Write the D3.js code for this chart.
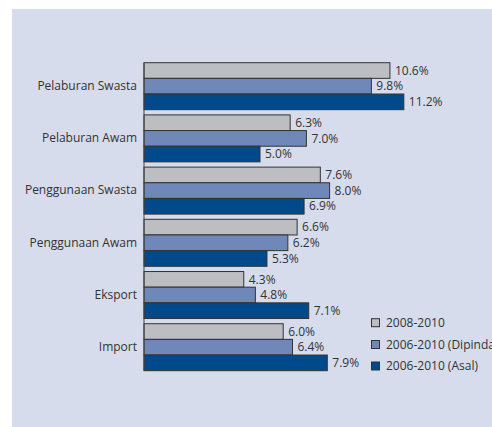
<!DOCTYPE html>
<html>
<head>
<meta charset="utf-8">
<script src="https://cdn.jsdelivr.net/npm/d3@7"></script>
<style>
  body { margin: 0; background: #fff; }
  svg { display: block; font-family: "Open Sans", sans-serif; }
</style>
</head>
<body>
<div id="chart"></div>
<script>
var categories = ['Pelaburan Swasta', 'Pelaburan Awam', 'Penggunaan Swasta', 'Penggunaan Awam', 'Eksport', 'Import'];
var seriesNames = ['2008-2010', '2006-2010 (Dipinda)', '2006-2010 (Asal)'];
var s2008 = [10.6, 6.3, 7.6, 6.6, 4.3, 6.0];
var s2006rev = [9.8, 7.0, 8.0, 6.2, 4.8, 6.4];
var s2006orig = [11.2, 5.0, 6.9, 5.3, 7.1, 7.9];
var colors = ['#bdbec1', '#6f87b9', '#004a8b'];

var W = 492, H = 427;
var seriesValues = [s2008, s2006rev, s2006orig];

var svg = d3.select('#chart').append('svg')
  .attr('width', W)
  .attr('height', H);

// panel background
svg.append('rect')
  .attr('x', 12).attr('y', 9)
  .attr('width', W - 12).attr('height', H - 9)
  .attr('fill', '#d6dcec');

// scales
var x = d3.scaleLinear().domain([0, 12]).range([144, 144 + 12 * 23.2]);
var y0 = d3.scaleBand().domain(categories).range([62.7, 370.7]).paddingInner(0.1);
var y1 = d3.scaleBand().domain(d3.range(seriesNames.length)).range([0, y0.bandwidth()]);

var rows = [];
categories.forEach(function(c, i) {
  seriesValues.forEach(function(vals, s) {
    rows.push({ cat: c, s: s, v: vals[i] });
  });
});

var g = svg.append('g');

g.selectAll('rect.bar').data(rows).enter().append('rect')
  .attr('class', 'bar')
  .attr('x', x(0))
  .attr('y', function(d) { return y0(d.cat) + y1(d.s); })
  .attr('width', function(d) { return x(d.v) - x(0); })
  .attr('height', y1.bandwidth())
  .attr('fill', function(d) { return colors[d.s]; })
  .attr('stroke', '#333')
  .attr('stroke-width', 1);

g.selectAll('text.val').data(rows).enter().append('text')
  .attr('class', 'val')
  .attr('x', function(d) { return x(d.v) + 5; })
  .attr('y', function(d) { return y0(d.cat) + y1(d.s) + y1.bandwidth() / 2; })
  .attr('dy', '0.35em')
  .attr('font-size', 12)
  .attr('fill', '#333')
  .text(function(d) { return d.v.toFixed(1) + '%'; });

// y axis
var yAxis = d3.axisLeft(y0).tickSize(0).tickPadding(7);
var ax = svg.append('g')
  .attr('transform', 'translate(' + x(0) + ',0)')
  .call(yAxis);
ax.select('.domain').attr('stroke', '#444').attr('d', 'M0,' + y0.range()[0] + 'V' + y0.range()[1]);
ax.selectAll('text').attr('font-size', 12).attr('fill', '#333').attr('font-family', '"Open Sans", sans-serif');

// legend
var legend = svg.append('g').attr('transform', 'translate(371,0)');
var ly = [322.7, 344.5, 366];
seriesNames.forEach(function(n, i) {
  legend.append('rect')
    .attr('x', 0.5).attr('y', ly[i] - 4)
    .attr('width', 8).attr('height', 8)
    .attr('fill', colors[i])
    .attr('stroke', '#333');
  legend.append('text')
    .attr('x', 15).attr('y', ly[i])
    .attr('dy', '0.35em')
    .attr('font-size', 12)
    .attr('fill', '#333')
    .text(n);
});
</script>
</body>
</html>
